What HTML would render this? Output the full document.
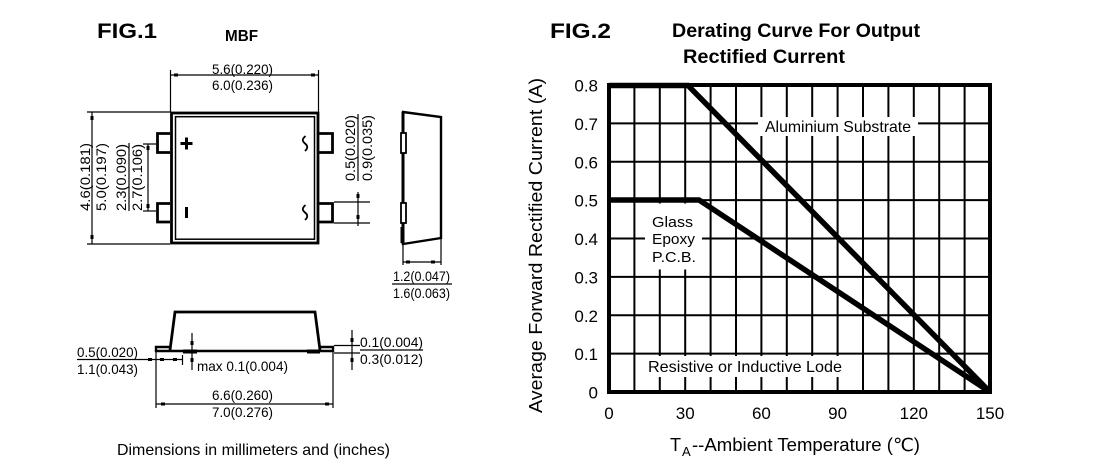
<!DOCTYPE html>
<html>
<head>
<meta charset="utf-8">
<style>
  html,body{margin:0;padding:0;background:#fff;}
  svg{display:block;}
  text{font-family:"Liberation Sans","DejaVu Sans","Noto Sans CJK SC",sans-serif;fill:#000;}
</style>
</head>
<body>
<svg width="1100" height="473" viewBox="0 0 1100 473" xmlns="http://www.w3.org/2000/svg">
  <rect x="0" y="0" width="1100" height="473" fill="#fff"/>

  <!-- ================= FIG.1 ================= -->
  <text x="97" y="38" font-size="21" font-weight="bold" textLength="60" lengthAdjust="spacingAndGlyphs">FIG.1</text>
  <text x="225" y="41" font-size="16" font-weight="bold" textLength="33" lengthAdjust="spacingAndGlyphs">MBF</text>

  <!-- top dimension -->
  <g stroke="#000" stroke-width="1.2" fill="none">
    <line x1="170" y1="75" x2="319" y2="75"/>
    <line x1="170.5" y1="70" x2="170.5" y2="112"/>
    <line x1="318.5" y1="70" x2="318.5" y2="112"/>
    <!-- left dimension -->
    <line x1="92" y1="112" x2="92" y2="244"/>
    <line x1="87" y1="112" x2="170" y2="112"/>
    <line x1="87" y1="244" x2="170" y2="244"/>
    <!-- 2.3 dimension -->
    <line x1="148" y1="144" x2="148" y2="211"/>
    <line x1="143" y1="144" x2="156" y2="144"/>
    <line x1="143" y1="211" x2="156" y2="211"/>
    <line x1="129" y1="143" x2="129" y2="211"/>
    <!-- right dimension -->
    <line x1="358" y1="114" x2="358" y2="181"/>
    <line x1="358" y1="192" x2="358" y2="226"/>
    <line x1="334" y1="202" x2="370" y2="202"/>
    <line x1="334" y1="223" x2="370" y2="223"/>
    <!-- side view dims -->
    <line x1="403" y1="244" x2="403" y2="265"/>
    <line x1="441" y1="238" x2="441" y2="265"/>
    <line x1="403" y1="262" x2="441" y2="262"/>
    <line x1="392" y1="284" x2="452" y2="284"/>
  </g>
  <g fill="#000">
    <rect x="174" y="73.5" width="4" height="3"/>
    <rect x="311" y="73.5" width="4" height="3"/>
    <rect x="90.5" y="116" width="3" height="4"/>
    <rect x="90.5" y="235" width="3" height="4"/>
    <rect x="146.5" y="146" width="3" height="4"/>
    <rect x="146.5" y="204" width="3" height="4"/>
    <rect x="356.5" y="194" width="3" height="4"/>
    <rect x="356.5" y="215" width="3" height="4"/>
    <rect x="406" y="260.5" width="4" height="3"/>
    <rect x="431" y="260.5" width="4" height="3"/>
  </g>

  <!-- dimension texts (top view) -->
  <text x="212" y="74" font-size="14" textLength="61" lengthAdjust="spacingAndGlyphs">5.6(0.220)</text>
  <text x="212" y="90" font-size="14" textLength="61" lengthAdjust="spacingAndGlyphs">6.0(0.236)</text>
  <text transform="translate(90,211) rotate(-90)" font-size="14" textLength="68" lengthAdjust="spacingAndGlyphs">4.6(0.181)</text>
  <text transform="translate(106,211) rotate(-90)" font-size="14" textLength="68" lengthAdjust="spacingAndGlyphs">5.0(0.197)</text>
  <text transform="translate(126,211) rotate(-90)" font-size="14" textLength="67" lengthAdjust="spacingAndGlyphs">2.3(0.090)</text>
  <text transform="translate(142,211) rotate(-90)" font-size="14" textLength="67" lengthAdjust="spacingAndGlyphs">2.7(0.106)</text>
  <text transform="translate(355,181) rotate(-90)" font-size="14" textLength="66" lengthAdjust="spacingAndGlyphs">0.5(0.020)</text>
  <text transform="translate(372,181) rotate(-90)" font-size="14" textLength="66" lengthAdjust="spacingAndGlyphs">0.9(0.035)</text>

  <!-- body top view -->
  <rect x="171.5" y="113" width="146.5" height="130" fill="none" stroke="#000" stroke-width="2.8"/>
  <rect x="175.5" y="116.7" width="139" height="122.5" fill="none" stroke="#000" stroke-width="1.5"/>
  <!-- leads -->
  <g fill="none" stroke="#000" stroke-width="2.8">
    <path d="M170,133.5 H157.5 V152.5 H170"/>
    <path d="M170,203.5 H157.5 V222 H170"/>
    <path d="M318,133.5 H332.5 V152.5 H318"/>
    <path d="M318,203.5 H332.5 V222 H318"/>
  </g>
  <!-- symbols -->
  <rect x="180.5" y="142" width="12" height="3" fill="#000"/>
  <rect x="185" y="137.5" width="3" height="12" fill="#000"/>
  <rect x="185" y="207" width="3" height="11" fill="#000"/>
  <g fill="none" stroke="#000" stroke-width="1.8">
    <path d="M305.5,136 C302,139 302,141 305,143.5 C308,146 308,148 305,151"/>
    <path d="M305.5,205 C302,208 302,210 305,212.5 C308,215 308,217 305,220"/>
  </g>

  <!-- side view -->
  <path d="M403,112 L441,117 L441,238 L403,244 Z" fill="none" stroke="#000" stroke-width="2.4"/>
  <line x1="403" y1="112" x2="403" y2="244" stroke="#000" stroke-width="3"/>
  <rect x="401" y="133" width="5" height="20" fill="#fff" stroke="#000" stroke-width="1.8"/>
  <rect x="401" y="203" width="5" height="20" fill="#fff" stroke="#000" stroke-width="1.8"/>
  <rect x="400.5" y="227" width="4" height="16" fill="#000"/>
  <text x="393" y="281" font-size="14" textLength="57" lengthAdjust="spacingAndGlyphs">1.2(0.047)</text>
  <text x="393" y="298" font-size="14" textLength="57" lengthAdjust="spacingAndGlyphs">1.6(0.063)</text>

  <!-- bottom (front) view -->
  <path d="M170,350 L175,312 L315,312 L320,350" fill="none" stroke="#000" stroke-width="2.8"/>
  <line x1="155" y1="351" x2="333" y2="351" stroke="#000" stroke-width="2.4"/>
  <path d="M171,347 H156 V352" fill="none" stroke="#000" stroke-width="2.4"/>
  <path d="M319,347 H333 V352" fill="none" stroke="#000" stroke-width="2.4"/>
  <rect x="183" y="349.5" width="14" height="4" fill="#000"/>
  <rect x="307" y="349.5" width="13" height="4" fill="#000"/>

  <g stroke="#000" stroke-width="1.2" fill="none">
    <line x1="156" y1="352" x2="156" y2="408"/>
    <line x1="333" y1="352" x2="333" y2="408"/>
    <line x1="156" y1="404" x2="333" y2="404"/>
    <line x1="77" y1="359.5" x2="183" y2="359.5"/>
    <line x1="182.5" y1="355" x2="182.5" y2="365"/>
    <line x1="192" y1="333" x2="192" y2="370"/>
    <line x1="352" y1="330" x2="352" y2="370"/>
    <line x1="334" y1="345.5" x2="360" y2="345.5"/>
    <line x1="334" y1="353" x2="360" y2="353"/>
    <line x1="360" y1="350" x2="423" y2="350"/>
  </g>
  <g fill="#000">
    <rect x="161" y="402.5" width="4" height="3"/>
    <rect x="325" y="402.5" width="4" height="3"/>
    <rect x="148" y="358" width="4" height="3"/>
    <rect x="160" y="358" width="4" height="3"/>
    <rect x="173" y="358" width="4" height="3"/>
    <rect x="190.5" y="341" width="3" height="4"/>
    <rect x="190.5" y="358" width="3" height="4"/>
    <rect x="350.5" y="338" width="3" height="4"/>
    <rect x="350.5" y="358" width="3" height="4"/>
  </g>
  <text x="77" y="357" font-size="14" textLength="61" lengthAdjust="spacingAndGlyphs">0.5(0.020)</text>
  <text x="77" y="374" font-size="14" textLength="61" lengthAdjust="spacingAndGlyphs">1.1(0.043)</text>
  <text x="197" y="371" font-size="14" textLength="91" lengthAdjust="spacingAndGlyphs">max 0.1(0.004)</text>
  <text x="360" y="347" font-size="14" textLength="63" lengthAdjust="spacingAndGlyphs">0.1(0.004)</text>
  <text x="360" y="364" font-size="14" textLength="63" lengthAdjust="spacingAndGlyphs">0.3(0.012)</text>
  <text x="212" y="400" font-size="14" textLength="61" lengthAdjust="spacingAndGlyphs">6.6(0.260)</text>
  <text x="212" y="417" font-size="14" textLength="61" lengthAdjust="spacingAndGlyphs">7.0(0.276)</text>
  <text x="117" y="455" font-size="16" textLength="273" lengthAdjust="spacingAndGlyphs">Dimensions in millimeters and (inches)</text>

  <!-- ================= FIG.2 ================= -->
  <text x="550" y="38" font-size="21" font-weight="bold" textLength="61" lengthAdjust="spacingAndGlyphs">FIG.2</text>
  <text x="672" y="37" font-size="19" font-weight="bold" textLength="248" lengthAdjust="spacingAndGlyphs">Derating Curve For Output</text>
  <text x="683" y="63" font-size="19" font-weight="bold" textLength="162" lengthAdjust="spacingAndGlyphs">Rectified Current</text>

  <!-- grid -->
  <g stroke="#000" stroke-width="2">
    <line x1="634.4" y1="85" x2="634.4" y2="392"/>
    <line x1="659.8" y1="85" x2="659.8" y2="392"/>
    <line x1="685.2" y1="85" x2="685.2" y2="392"/>
    <line x1="710.6" y1="85" x2="710.6" y2="392"/>
    <line x1="736" y1="85" x2="736" y2="392"/>
    <line x1="761.4" y1="85" x2="761.4" y2="392"/>
    <line x1="786.8" y1="85" x2="786.8" y2="392"/>
    <line x1="812.2" y1="85" x2="812.2" y2="392"/>
    <line x1="837.6" y1="85" x2="837.6" y2="392"/>
    <line x1="863" y1="85" x2="863" y2="392"/>
    <line x1="888.4" y1="85" x2="888.4" y2="392"/>
    <line x1="913.8" y1="85" x2="913.8" y2="392"/>
    <line x1="939.2" y1="85" x2="939.2" y2="392"/>
    <line x1="964.6" y1="85" x2="964.6" y2="392"/>
    <line x1="609" y1="123.4" x2="990" y2="123.4"/>
    <line x1="609" y1="161.8" x2="990" y2="161.8"/>
    <line x1="609" y1="200.1" x2="990" y2="200.1"/>
    <line x1="609" y1="238.5" x2="990" y2="238.5"/>
    <line x1="609" y1="276.9" x2="990" y2="276.9"/>
    <line x1="609" y1="315.3" x2="990" y2="315.3"/>
    <line x1="609" y1="353.6" x2="990" y2="353.6"/>
  </g>

  <!-- label boxes -->
  <rect x="758" y="117" width="160" height="19" fill="#fff"/>
  <rect x="645" y="203.5" width="57" height="66" fill="#fff"/>
  <rect x="641" y="356" width="209" height="21" fill="#fff"/>

  <!-- border -->
  <rect x="609" y="85" width="381" height="307" fill="none" stroke="#000" stroke-width="4"/>

  <!-- curves -->
  <g fill="none" stroke="#000" stroke-width="5.5" stroke-linejoin="miter">
    <polyline points="609,85.5 688,85.5 990,392"/>
    <polyline points="609,200 699,200 990,392"/>
  </g>

  <!-- labels -->
  <text x="765" y="132" font-size="16" textLength="146" lengthAdjust="spacingAndGlyphs">Aluminium Substrate</text>
  <text x="652" y="227" font-size="15" textLength="41" lengthAdjust="spacingAndGlyphs">Glass</text>
  <text x="652" y="244" font-size="15" textLength="43" lengthAdjust="spacingAndGlyphs">Epoxy</text>
  <text x="652" y="262" font-size="15" textLength="44" lengthAdjust="spacingAndGlyphs">P.C.B.</text>
  <text x="648" y="372" font-size="16" textLength="194" lengthAdjust="spacingAndGlyphs">Resistive or Inductive Lode</text>

  <!-- y tick labels -->
  <g font-size="17" text-anchor="end">
    <text x="598" y="91.5">0.8</text>
    <text x="598" y="129.9">0.7</text>
    <text x="598" y="168.3">0.6</text>
    <text x="598" y="206.6">0.5</text>
    <text x="598" y="245">0.4</text>
    <text x="598" y="283.4">0.3</text>
    <text x="598" y="321.8">0.2</text>
    <text x="598" y="360.1">0.1</text>
    <text x="598" y="398.5">0</text>
  </g>
  <!-- x tick labels -->
  <g font-size="17" text-anchor="middle">
    <text x="609" y="419">0</text>
    <text x="685.2" y="419">30</text>
    <text x="761.4" y="419">60</text>
    <text x="837.6" y="419">90</text>
    <text x="913.8" y="419">120</text>
    <text x="990" y="419">150</text>
  </g>

  <!-- axis titles -->
  <text x="670" y="451" font-size="18">T</text>
  <text x="682" y="456" font-size="13">A</text>
  <text x="692" y="451" font-size="18" textLength="228" lengthAdjust="spacingAndGlyphs">--Ambient Temperature (℃)</text>
  <text transform="translate(542,413) rotate(-90)" font-size="18" textLength="335" lengthAdjust="spacingAndGlyphs">Average Forward Rectified Current (A)</text>
</svg>
</body>
</html>
